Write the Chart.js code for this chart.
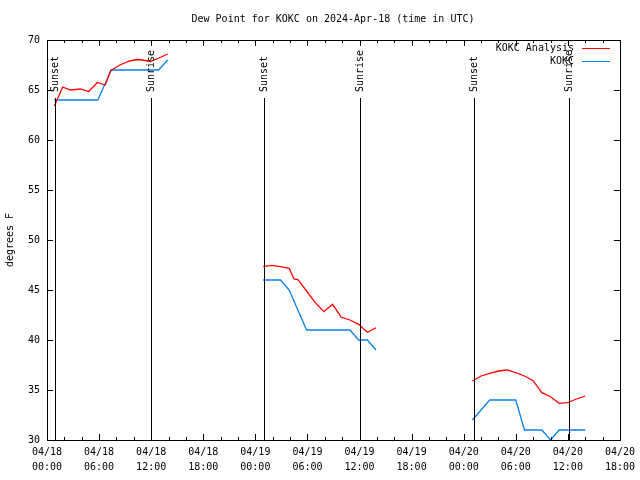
<!DOCTYPE html>
<html>
<head>
<meta charset="utf-8">
<script src="https://cdn.jsdelivr.net/npm/chart.js@4.4.1/dist/chart.umd.min.js"></script>
<style>
  html, body { margin: 0; padding: 0; background: #fff; }
  canvas { display: block; }
</style>
</head>
<body>
<canvas id="dew_chart" width="640" height="480"></canvas>
<script>
const FONT = '"DejaVu Sans Mono", "Liberation Mono", monospace';
Chart.defaults.font.family = FONT;
Chart.defaults.font.size = 10;
Chart.defaults.color = '#000';

// hours since 04/18 00:00 UTC
const anaHours1 = [0.85, 1.8, 2.7, 3.85, 4.8, 5.8, 6.7, 7.35, 8.4, 9.5, 10.4, 11.0, 11.9, 12.9, 13.9];
const anaDew1 = [63.4, 65.3, 65.0, 65.1, 64.85, 65.75, 65.5, 66.95, 67.5, 67.9, 68.05, 68.0, 67.85, 68.2, 68.6];
const anaHours2 = [24.9, 25.9, 26.9, 27.9, 28.45, 28.9, 29.9, 30.9, 31.9, 32.9, 33.9, 34.9, 35.9, 36.9, 37.9];
const anaDew2 = [47.33, 47.47, 47.33, 47.17, 46.1, 46.05, 44.9, 43.73, 42.83, 43.57, 42.27, 42.0, 41.57, 40.77, 41.23];
const anaHours3 = [49.0, 50.0, 51.0, 52.0, 53.0, 54.0, 55.0, 56.0, 57.0, 58.0, 59.0, 60.0, 61.0, 62.0];
const anaDew3 = [35.9, 36.4, 36.67, 36.9, 37.0, 36.73, 36.4, 35.93, 34.73, 34.33, 33.67, 33.73, 34.1, 34.4];

const obsHours1 = [0.85, 1.85, 2.85, 3.85, 4.85, 5.85, 7.4, 8.4, 9.4, 10.4, 11.4, 12.85, 13.9];
const obsDew1 = [64, 64, 64, 64, 64, 64, 67, 67, 67, 67, 67, 67, 68];
const obsHours2 = [24.9, 25.9, 26.9, 27.9, 28.9, 29.9, 30.9, 31.9, 32.9, 33.9, 34.9, 35.9, 36.9, 37.9];
const obsDew2 = [46, 46, 46, 45, 43, 41, 41, 41, 41, 41, 41, 40, 40, 39];
const obsHours3 = [49.0, 50.0, 51.0, 52.0, 53.0, 54.0, 55.0, 56.0, 57.0, 58.0, 59.0, 60.0, 61.0, 62.0];
const obsDew3 = [32, 33, 34, 34, 34, 34, 31, 31, 31, 30, 31, 31, 31, 31];

const eventHours = [0.95, 11.95, 25.05, 36.0, 49.15, 60.15];
const eventLabels = ['Sunset', 'Sunrise', 'Sunset', 'Sunrise', 'Sunset', 'Sunrise'];

const xTickDays = ['04/18', '04/18', '04/18', '04/18', '04/19', '04/19', '04/19', '04/19', '04/20', '04/20', '04/20', '04/20'];
const xTickTimes = ['00:00', '06:00', '12:00', '18:00', '00:00', '06:00', '12:00', '18:00', '00:00', '06:00', '12:00', '18:00'];

const seriesNames = ['KOKC Analysis', 'KOKC'];
const seriesColors = ['#ff0000', '#0a80f0'];

//join segments with a null so the line breaks between them
function buildPoints(parts) {
  const pts = [];
  parts.forEach(function (p, i) {
    if (i > 0) pts.push({ x: p[0][0] - 1, y: null });
    p[0].forEach(function (h, j) { pts.push({ x: h, y: p[1][j] }); });
  });
  return pts;
}

const framePlugin = {
  id: 'frame',
  afterDatasetsDraw(chart) {
    const ctx = chart.ctx;
    const a = chart.chartArea;
    const xs = chart.scales.x, ys = chart.scales.y;
    ctx.save();
    ctx.strokeStyle = '#000';
    ctx.lineWidth = 1;
    ctx.beginPath();
    // x ticks, major every 6h, minor every 2h, bottom and top
    for (let h = 0; h <= 66; h += 2) {
      const px = Math.round(xs.getPixelForValue(h)) + 0.5;
      const len = (h % 6 === 0) ? 6 : 3;
      ctx.moveTo(px, a.bottom); ctx.lineTo(px, a.bottom - len);
      ctx.moveTo(px, a.top); ctx.lineTo(px, a.top + len);
    }
    // y ticks left and right
    for (let v = 30; v <= 70; v += 5) {
      const py = Math.round(ys.getPixelForValue(v)) + 0.5;
      ctx.moveTo(a.left, py); ctx.lineTo(a.left + 6, py);
      ctx.moveTo(a.right, py); ctx.lineTo(a.right - 6, py);
    }
    ctx.stroke();
    ctx.strokeRect(Math.round(a.left) + 0.5, Math.round(a.top) + 0.5,
      Math.round(a.right - a.left), Math.round(a.bottom - a.top));

    // sunrise / sunset markers
    ctx.fillStyle = '#000';
    ctx.font = '10px ' + FONT;
    eventHours.forEach(function (h, i) {
      const px = Math.round(xs.getPixelForValue(h)) + 0.5;
      ctx.beginPath();
      ctx.moveTo(px, a.bottom);
      ctx.lineTo(px, a.top + 58);
      ctx.stroke();
      ctx.save();
      ctx.translate(px, a.top + 52);
      ctx.rotate(-Math.PI / 2);
      ctx.textAlign = 'left';
      ctx.textBaseline = 'middle';
      ctx.fillText(eventLabels[i], 0, 0);
      ctx.restore();
    });

    // legend
    ctx.textAlign = 'right';
    ctx.textBaseline = 'middle';
    seriesNames.forEach(function (name, i) {
      const y = 48 + i * 13;
      ctx.fillStyle = '#000';
      ctx.fillText(name, 574, y);
      ctx.strokeStyle = seriesColors[i];
      ctx.beginPath();
      ctx.moveTo(582, y + 0.5);
      ctx.lineTo(610, y + 0.5);
      ctx.stroke();
    });

    // title and y axis label
    ctx.fillStyle = '#000';
    ctx.textAlign = 'center';
    ctx.fillText('Dew Point for KOKC on 2024-Apr-18 (time in UTC)', 333, 19);
    ctx.save();
    ctx.translate(10, 240);
    ctx.rotate(-Math.PI / 2);
    ctx.fillText('degrees F', 0, 0);
    ctx.restore();
    ctx.restore();
  }
};

const ctxDew = document.getElementById('dew_chart');
const chartDew = new Chart(ctxDew, {
  type: 'line',
  data: {
    datasets: [
      {
        label: seriesNames[0],
        data: buildPoints([[anaHours1, anaDew1], [anaHours2, anaDew2], [anaHours3, anaDew3]]),
        borderColor: seriesColors[0],
        borderWidth: 1.3,
        pointRadius: 0,
        tension: 0,
        spanGaps: false,
      },
      {
        label: seriesNames[1],
        data: buildPoints([[obsHours1, obsDew1], [obsHours2, obsDew2], [obsHours3, obsDew3]]),
        borderColor: seriesColors[1],
        borderWidth: 1.3,
        pointRadius: 0,
        tension: 0,
        spanGaps: false,
      },
    ],
  },
  options: {
    responsive: false,
    animation: false,
    devicePixelRatio: 1,
    layout: { padding: { top: 40, right: 20, left: 0, bottom: 0 } },
    scales: {
      x: {
        type: 'linear',
        min: 0,
        max: 66,
        afterFit: function (s) { s.height = 40; },
        grid: { display: false, drawTicks: false },
        border: { display: false },
        ticks: {
          stepSize: 6,
          autoSkip: false,
          maxRotation: 0,
          padding: 5,
          font: { size: 10, lineHeight: 1.5 },
          callback: function (v) {
            const i = Math.round(v / 6);
            return [xTickDays[i], xTickTimes[i]];
          },
        },
      },
      y: {
        min: 30,
        max: 70,
        afterFit: function (s) { s.width = 47; },
        grid: { display: false, drawTicks: false },
        border: { display: false },
        ticks: { stepSize: 5, padding: 7, font: { size: 10 } },
      },
    },
    plugins: {
      legend: { display: false },
      title: { display: false },
      tooltip: { enabled: false },
    },
  },
  plugins: [framePlugin],
});
</script>
</body>
</html>
